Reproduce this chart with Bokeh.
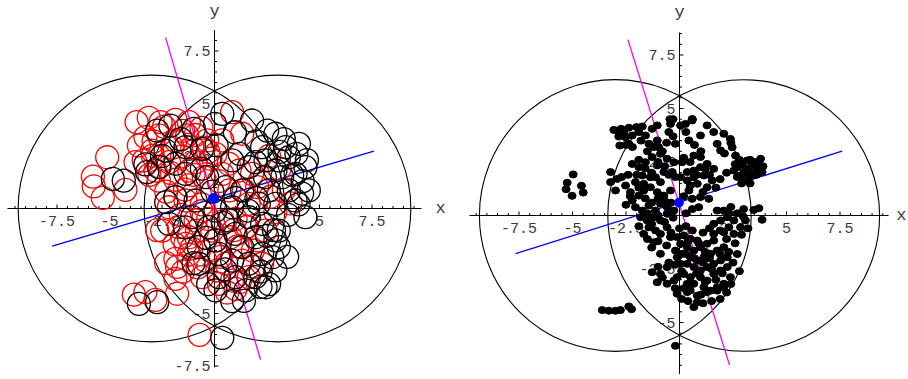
import numpy as np
from bokeh.plotting import figure
from bokeh.layouts import row
from bokeh.embed import file_html
from bokeh.resources import INLINE
from bokeh.core.properties import value
from bokeh.models import Range1d

# ---------------- data ----------------
circle_centers_x = [-3.0, 3.0]
circle_centers_y = [0.0, 0.0]
circle_radius = 6.35

# left panel: red open circles
red_x = [-5.11, -5.79, -5.75, -5.32, -4.24, -3.71, -3.13, -2.57, -1.86, -1.22, -0.62, 0.84,
         -3.29, -2.65, -1.86, -1.30, -0.35, 0.37, -3.37, -2.94, -2.17, -1.54, -0.90, -0.19,
         0.68, 1.19, 1.79, -2.65, -1.86, -1.22, -0.51, 0.71, 1.40, 2.03, 3.30, -2.17,
         -1.38, -0.62, 1.63, 2.90, -2.49, -1.70, -1.22, -0.83, -0.11, 0.76, 1.48, 2.43,
         -1.86, -1.22, -0.43, 0.13, 0.56, 1.32, 1.83, -0.59, 0.21, 0.84, 1.63, -1.86,
         -3.84, -3.29, -2.81, -1.78, -0.71, -2.97, -3.76, 0.37, 0.05, -1.86, -1.54, -1.38,
         0.05, 2.27, 1.00, -0.90, -2.81, -1.06, 1.32,
         -2.40, -1.50, -0.90, -2.00, -0.30, 0.20, -1.00, -2.30, -1.60, -0.30, 0.40, 1.00,
         -1.10, -0.20, 1.10, -1.50, -2.30, 0.60, 1.20, -3.60, -2.90, 2.20, 2.60, 3.10,
         0.92, 1.56, 1.24, 1.87, 2.03, 2.67, 3.62, -2.73, -1.78,
         -2.10, -1.20, -0.50, -2.60, -1.90, -3.10, -0.80, 0.30, -1.40, -0.60]
red_y = [2.44, 1.52, 1.05, 0.51, 0.89, 4.11, 4.32, 4.11, 4.22, 4.11, 3.84, 4.59,
         3.40, 3.48, 3.24, 3.48, 3.24, 3.24, 2.29, 2.52, 2.21, 2.48, 2.21, 2.37,
         2.13, 1.81, 1.65, 1.33, 1.37, 1.10, 1.49, 0.86, 0.86, 1.02, 0.86, 0.06,
         0.38, -0.13, 0.22, -0.17, -1.05, -0.89, -1.37, -1.05, -1.05, -1.37, -0.89, -1.05,
         -2.40, -2.19, -2.48, -2.95, -2.63, -2.48, -2.00, -3.27, -3.59, -3.43, -3.27, -3.35,
         -4.10, -3.98, -4.35, -4.06, -6.02, 2.76, 2.21, 1.65, 2.60, 0.54, -1.37, -1.68,
         -1.52, -2.63, -3.83, -0.57, 1.81, 2.92, 3.56,
         3.90, 3.70, 3.50, 2.90, 2.70, 1.30, 1.60, 0.80, -0.30, -0.50, -0.60, -0.50,
         -1.90, -2.00, -1.80, -3.00, -2.60, -4.00, -3.50, 3.00, 3.20, 1.30, 2.50, 1.90,
         -1.03, -0.87, -1.83, -2.78, -1.51, 0.56, 0.24, -1.03, -2.78,
         1.70, 1.80, 2.90, 2.00, -1.70, 1.60, -2.80, -2.30, 0.90, 0.20]

# left panel: black open circles
black_x = [-4.84, -4.32, -3.60, -2.73, 0.37, 0.84, -3.29, -3.21, -2.73, -2.10, -0.98, 0.02,
           0.37, 0.97, 1.79, 2.51, 2.90, 4.02, 3.54, 3.06, 2.43, 1.95, 4.33, 3.86,
           3.22, -2.33, -1.86, -1.38, -0.59, 0.84, 1.63, -1.38, -0.35, 0.52, 1.32, 2.59,
           3.54, -1.86, -0.90, 0.05, 0.84, 2.11, 2.90, 4.33, 3.86, -1.06, -0.27, 0.68,
           1.63, 2.27, 3.06, 0.05, 1.00, 1.95, 2.90, -0.75, 0.21, 1.32, 2.27, 3.06,
           -0.75, 0.84, 1.63, 2.75, 2.90, 0.21, 1.00, 1.95, 2.43, 1.48, 0.05, -2.17,
           -2.65, 2.27, 3.38, 2.90, 4.49,
           -2.50, -1.60, -0.60, 0.10, 1.20, 2.00, 3.30, 3.90, 4.20, 3.50, 4.00, -1.40,
           -0.40, 0.50, 2.50, 2.20, 1.40, -0.30, -0.10, 1.00, -2.30, 2.60, 2.83, 3.46,
           2.19, 4.17, 3.70, 3.10, 2.40, 4.40, 1.60, 0.40, -1.00, 2.00]
black_y = [1.41, 1.33, -4.54, -4.46, -6.16, -4.41, 2.10, 1.73, 3.71, 3.95, 3.79, 4.03,
           4.51, 3.63, 4.19, 3.71, 3.56, 3.08, 2.44, 2.29, 2.29, 2.21, 1.97, 1.65,
           1.49, 2.76, 2.13, 2.92, 2.84, 2.29, 1.97, 1.65, 1.49, 1.02, 0.86, 0.86,
           0.86, 0.54, 0.38, -0.10, 0.06, 0.22, 0.22, -0.41, 0.38, -0.41, -0.89, -0.57,
           -0.41, -0.73, -1.05, -1.52, -1.21, -1.37, -1.52, -1.84, -2.16, -1.84, -2.16, -1.84,
           -2.63, -2.48, -2.63, -2.32, -2.95, -3.27, -3.27, -3.27, -3.75, -3.90, -3.90, -0.73,
           1.97, 2.92, 2.92, 1.81, 0.86,
           2.50, 3.30, 1.90, 3.00, 2.60, 3.20, 3.30, 2.60, 1.30, -0.30, 0.20, -0.90,
           -1.40, -2.90, -1.30, -3.00, -4.40, -3.60, 0.80, 0.50, 0.30, -3.60, -1.03, -2.30,
           -3.73, 0.71, 1.60, 2.70, 1.50, 2.30, -0.10, -0.70, -2.60, 0.50]

# right panel: filled black dots
dot_x = [-4.97, -5.25, -5.30, -5.02, -4.58, -4.50,
         -3.61, -3.30, -2.99, -2.76, -2.37, -2.24, -0.19,
         -3.07, -2.73, -2.37, -2.01, -1.74, -2.84, -2.52, -2.21, -2.79, -2.37,
         -1.59, -1.28, -1.04, -1.43, -1.04, -0.97, -0.50, -0.42, -0.19, 0.05, 0.28, 0.59,
         0.44, 1.29, 0.98, 2.07, 2.38, 1.76, 2.46, 1.92, 2.62,
         -2.21, -1.90, -1.59, -1.28, -0.89, -0.58, -0.26, 0.12, -1.04, -0.73, -0.34,
         -1.74, -1.36, -2.06, -1.67, -3.22, -3.22, -2.91, -2.99, -2.52, -2.29, -1.12, -0.89,
         0.67, 0.98, 1.29, 0.98, 0.67, 0.36, 0.05, 0.36, 0.67, 1.14, 1.60, 1.53, 1.29,
         0.83, 0.44, 0.59, 0.98, 1.37, 0.90,
         2.70, 2.93, 3.16, 3.40, 3.63, 3.86, 3.01, 3.24, 3.47, 2.85, 3.79, 2.54, 3.16, 2.93,
         3.47, 3.71, 3.86, 2.98,
         -2.21, -1.90, -1.67, -1.36, -1.04, -0.73, -0.42, -2.06, -1.74, -1.43, -1.12, -0.89,
         -0.58, -0.26, -1.82, -1.51, -1.20, -0.89, -0.58, -1.43, -1.12, -1.67, -0.89, -0.58,
         -0.42, -1.20, -0.89,
         1.76, 2.07, 2.23, 1.92, 1.60, 2.54, 2.31, 2.07, 1.60, 2.85, 3.08, 2.54,
         -0.11, 0.20, 0.51, 0.83, 0.05, 0.36, 0.67, 0.98, 1.29, 1.60, -0.19, 0.12,
         0.51, 0.83, 1.14, 1.45, 1.76, 2.07, 2.23, 1.92, 1.60, 1.29, 0.98, 0.67,
         0.36, 0.05, -0.11, 0.20, 0.51, 0.98, 1.29, 1.60, 1.92, 2.23, 2.38, 2.07,
         1.76, 1.45, 1.14, 0.67, 0.36, -0.11, -0.58, -0.89, -1.28, -1.04, -0.58, -0.26,
         -0.11, 0.36, 0.83, 1.29, 0.83, 0.67, 1.76, 2.07, -0.45, 0.59,
         -2.60, -2.90, -1.90, -2.50, -2.20, -1.80, -1.50, -1.20, -0.80, -0.60, -0.30,
         -1.90, -1.60, -1.30, -1.00, -0.70, -0.50, -0.20, -2.40, -2.70, -2.00,
         -1.90, -1.60, -1.30, -1.00, -0.70, -0.40, -2.30, -2.50, -1.50, -1.00, -0.70, -0.30,
         -1.30, -1.90, -1.50, -1.00, -0.60, -1.30,
         0.30, 0.70, 1.00, 0.20, 0.50, 1.20, 1.40, 0.80, 0.50, 1.10, 1.70, 1.90, 2.20,
         0.20, 0.60, 0.30,
         0.00, 0.30, 0.60, 1.10, 1.40, 1.90, 2.20, 2.60, 2.90, 2.70, 2.50, 2.80, 2.40, 2.20,
         1.90, 1.50, 1.10, 0.40, 0.10, -0.20, 0.20, 0.50, 1.00, 1.20, 1.70, 2.00, 1.50, 1.10,
         0.70, 0.30, -0.20, 0.10, 0.80, 1.40, 1.90, 2.30, 1.20, 0.40, 0.90, -0.40, -0.50,
         -0.80, -1.00,
         2.60, 2.80, 3.30, 3.50, 3.70, 3.10, 3.30, 2.70, 2.90, 3.30, 3.60, 3.90,
         2.40, 2.70, 3.00, 3.20, 2.30,
         -0.30, 0.60, 1.60, 2.40, 2.10]
dot_y = [1.92, 1.53, 1.23, 0.92, 1.39, 1.07,
         -4.42, -4.45, -4.45, -4.42, -4.25, -4.38, -6.09,
         4.00, 4.05, 4.10, 4.13, 4.16, 3.69, 3.66, 3.74, 3.27, 3.35,
         3.74, 4.05, 4.21, 3.35, 3.51, 3.19, 3.90, 4.28, 3.35, 4.21, 4.28, 4.44,
         3.51, 4.21, 3.74, 3.82, 3.58, 3.35, 3.19, 3.04, 2.80,
         2.41, 2.26, 2.49, 2.73, 2.88, 2.65, 2.49, 2.49, 2.34, 2.03, 2.03,
         1.87, 1.79, 1.56, 1.48, 2.03, 1.56, 1.71, 1.17, 1.40, 1.09, 1.79, 1.56,
         2.80, 2.73, 2.41, 2.26, 2.10, 2.03, 1.79, 1.64, 1.79, 1.87, 2.18, 1.64, 1.32,
         1.48, 1.17, 0.78, 0.86, 0.78, 0.39,
         2.26, 2.41, 2.57, 2.34, 2.18, 2.03, 2.03, 1.79, 1.87, 1.87, 2.65, 2.10, 1.64, 1.64,
         0.26, 0.34, -0.20, -0.05,
         0.70, 0.93, 1.17, 1.32, 1.09, 0.93, 1.17, 0.39, 0.23, 0.47, 0.23, 0.55,
         0.39, 0.23, -0.08, -0.23, -0.08, -0.23, 0.08, -0.55, -0.70, -0.86, -0.86, -0.55,
         -1.01, -1.25, -1.79,
         0.23, 0.23, -0.08, -0.23, -0.39, -0.23, -0.55, -0.78, -0.86, -0.55, -0.23, -0.86,
         -1.01, -0.93, -1.09, -1.17, -1.32, -1.48, -1.64, -1.48, -1.32, -1.17, -1.64, -1.79,
         -1.95, -2.10, -1.95, -1.79, -1.64, -1.48, -1.95, -2.10, -2.26, -2.41, -2.57, -2.41,
         -2.26, -2.26, -1.95, -2.73, -2.88, -2.88, -3.04, -2.73, -2.57, -2.41, -2.88, -3.19,
         -3.35, -3.51, -3.35, -3.19, -3.19, -2.88, -2.41, -2.73, -2.65, -3.12, -3.19, -3.04,
         -3.66, -3.58, -3.74, -3.58, -4.05, -4.28, -3.51, -3.35, 4.50, 4.50,
         3.90, 3.95, 3.90, 3.30, 3.20, 3.50, 3.00, 3.20, 3.00, 3.40, 3.70,
         2.60, 2.20, 2.00, 2.50, 2.30, 1.90, 1.80, 1.90, 1.80, 1.90,
         1.30, 0.80, 0.60, 0.80, 0.70, 0.60, 0.90, 0.50, 0.10, 0.00, -0.30, -0.10,
         -0.40, -0.50, -1.10, -1.20, -1.40, -1.50,
         3.90, 3.30, 3.00, 2.70, 2.50, 2.20, 1.90, 1.90, 1.40, 1.10, 1.30, 1.70, 2.00,
         0.90, 0.30, 0.10,
         -0.60, -0.50, -0.70, -0.80, -0.60, -0.70, -1.10, -1.30, -0.90, -1.80, -2.20, -2.60,
         -3.20, -3.60, -3.90, -4.00, -4.10, -4.00, -3.90, -3.40, -3.40, -3.50, -3.70, -3.10,
         -3.00, -2.70, -2.50, -2.20, -2.00, -1.80, -2.30, -2.60, -2.70, -2.00, -1.80, -1.70,
         -1.70, -1.20, -1.30, -0.80, -2.20, -2.90, -2.40,
         2.40, 2.60, 2.60, 2.50, 2.40, 2.20, 2.00, 1.80, 1.50, 1.50, 1.90, 2.30,
         0.40, 0.10, 0.30, -0.60, 0.10,
         4.50, 4.50, 3.90, 3.40, 2.90]

# centroid and principal axes
left_center = (-0.05, 0.48)
right_center = (-0.03, 0.60)
left_blue_x = [-7.73, 7.59]
left_blue_y = [-1.79, 2.73]
left_mag_x = [-2.33, 2.19]
left_mag_y = [8.14, -7.19]
right_blue_x = [-7.66, 7.60]
right_blue_y = [-1.78, 3.01]
right_mag_x = [-2.41, 2.34]
right_mag_y = [8.22, -6.99]

x_major = [-7.5, -5, -2.5, 2.5, 5, 7.5]
x_major_labels = ["-7.5", "-5", "-2.5", "2.5", "5", "7.5"]
left_y_major = [-7.5, -5, -2.5, 2.5, 5, 7.5]
left_y_labels = ["-7.5", "-5", "-2.5", "2.5", "5", "7.5"]
right_y_major = [-5, -2.5, 2.5, 5, 7.5]
right_y_labels = ["-5", "-2.5", "2.5", "5", "7.5"]

FONT = value("Liberation Mono")
LABEL_COLOR = "#3a3a3a"
H = 379


def make_panel(width, xr, yr, scale, xax, yax, y_major, y_labels):
    p = figure(width=width, height=H, x_range=Range1d(*xr), y_range=Range1d(*yr),
               output_backend="svg", toolbar_location=None, min_border=0,
               x_axis_type=None, y_axis_type=None, outline_line_color=None,
               background_fill_color="white", border_fill_color="white")
    p.grid.visible = False
    # axis lines
    p.segment(x0=[xax[0], 0], y0=[0, yax[0]], x1=[xax[1], 0], y1=[0, yax[1]],
              line_color="black", line_width=1)
    # ticks
    xminor = [t for t in np.arange(-9.5, 9.51, 0.5) if abs(t) > 1e-9 and t not in x_major
              and xax[0] < t < xax[1]]
    yminor = [t for t in np.arange(-9.5, 9.51, 0.5) if abs(t) > 1e-9 and t not in y_major
              and yax[0] < t < yax[1]]
    p.segment(x0=x_major, y0=0, x1=x_major, y1=4.0 / scale, line_color="black", line_width=1)
    p.segment(x0=xminor, y0=0, x1=xminor, y1=2.5 / scale, line_color="black", line_width=1)
    p.segment(x0=0, y0=y_major, x1=4.0 / scale, y1=y_major, line_color="black", line_width=1)
    p.segment(x0=0, y0=yminor, x1=2.5 / scale, y1=yminor, line_color="black", line_width=1)
    # tick labels
    p.text(x=x_major, y=[0] * len(x_major), text=x_major_labels, text_align="center",
           text_baseline="middle", y_offset=12, text_font=FONT, text_font_size="15px",
           text_color=LABEL_COLOR)
    p.text(x=[0] * len(y_major), y=y_major, text=y_labels, text_align="right",
           text_baseline="middle", x_offset=-4, text_font=FONT, text_font_size="15px",
           text_color=LABEL_COLOR)
    # big circles
    p.circle(x=circle_centers_x, y=circle_centers_y, radius=circle_radius,
             fill_color=None, line_color="black", line_width=1.1)
    return p


# left panel: image origin at (214, 208), 21 px per unit
s1 = 21.0
p1 = make_panel(455, (-214 / s1, 241 / s1), (-171 / s1, 208 / s1), s1,
                (-9.86, 9.86), (-7.57, 8.5), left_y_major, left_y_labels)
p1.text(x=[226 / s1], y=[0], text=["x"], text_align="center", text_baseline="middle",
        text_font=FONT, text_font_size="17px", text_color=LABEL_COLOR)
p1.text(x=[0], y=[197 / s1], text=["y"], text_align="center", text_baseline="middle",
        text_font=FONT, text_font_size="17px", text_color=LABEL_COLOR)
p1.line(left_mag_x, left_mag_y, line_color="#ff00ff", line_width=1.3)
p1.line(left_blue_x, left_blue_y, line_color="#0000ff", line_width=1.4)
p1.scatter(red_x, red_y, size=23, marker="circle", fill_color=None,
           line_color="#ff0000", line_width=1.3)
p1.scatter(black_x, black_y, size=23, marker="circle", fill_color=None,
           line_color="black", line_width=1.3)
p1.scatter([left_center[0]], [left_center[1]], size=10, color="#0000ff")

# right panel: image origin at (679, 215), 21.4 px per unit
s2 = 21.4
p2 = make_panel(453, (-224 / s2, 229 / s2), (-164 / s2, 215 / s2), s2,
                (-9.81, 9.77), (-7.4, 8.55), right_y_major, right_y_labels)
p2.text(x=[227 / s2], y=[0], text=["x"], text_align="right", text_baseline="middle",
        text_font=FONT, text_font_size="17px", text_color=LABEL_COLOR)
p2.text(x=[0], y=[203 / s2], text=["y"], text_align="center", text_baseline="middle",
        text_font=FONT, text_font_size="17px", text_color=LABEL_COLOR)
p2.line(right_mag_x, right_mag_y, line_color="#ff00ff", line_width=1.3)
p2.line(right_blue_x, right_blue_y, line_color="#0000ff", line_width=1.4)
p2.ellipse(x=dot_x, y=dot_y, width=8, height=7, width_units="screen",
           height_units="screen", fill_color="black", line_color="black")
p2.scatter([right_center[0]], [right_center[1]], size=9, color="#0000ff")

layout = row(p1, p2, spacing=0)
open("out.html", "w").write(file_html(layout, INLINE))
